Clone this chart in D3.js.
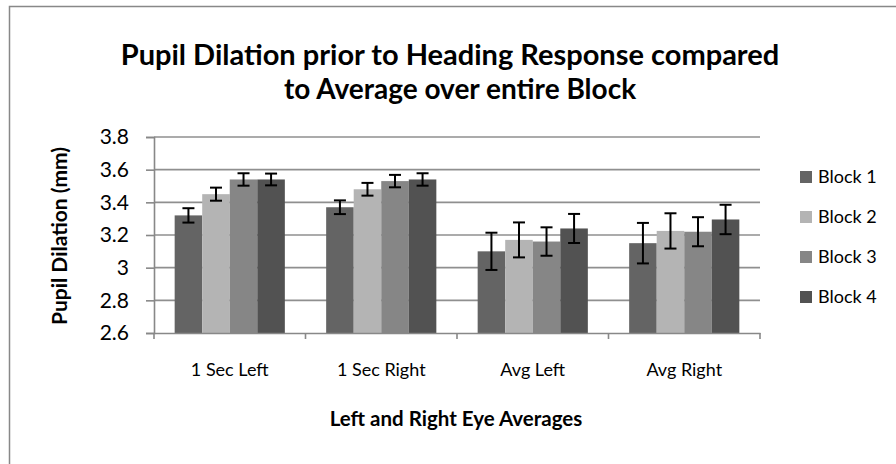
<!DOCTYPE html>
<html>
<head>
<meta charset="utf-8">
<script src="https://cdn.jsdelivr.net/npm/d3@7"></script>
<style>
  body { margin: 0; background: #fff; }
  svg text { font-family: Lato, "Liberation Sans", sans-serif; fill: #000; }
</style>
</head>
<body>
<svg id="chart" width="896" height="464"></svg>
<script>
"use strict";

var categories = ['1 Sec Left', '1 Sec Right', 'Avg Left', 'Avg Right'];
var blocks = ['Block 1', 'Block 2', 'Block 3', 'Block 4'];
var colors = ['#646464', '#b4b4b4', '#868686', '#525252'];

// means per block, one entry per category
var block1 = [3.32, 3.37, 3.10, 3.15];
var block2 = [3.45, 3.48, 3.17, 3.225];
var block3 = [3.54, 3.53, 3.16, 3.22];
var block4 = [3.54, 3.54, 3.24, 3.295];
// error bar half widths
var err1 = [0.044, 0.042, 0.114, 0.124];
var err2 = [0.040, 0.039, 0.107, 0.108];
var err3 = [0.038, 0.038, 0.087, 0.089];
var err4 = [0.036, 0.038, 0.089, 0.090];

var yTicks = [2.6, 2.8, 3, 3.2, 3.4, 3.6, 3.8];

var series = [block1, block2, block3, block4];
var errors = [err1, err2, err3, err4];

var svg = d3.select('#chart');

// chart frame
svg.append('rect')
  .attr('x', 9.5).attr('y', 6.5)
  .attr('width', 900).attr('height', 470)
  .attr('fill', 'none').attr('stroke', '#888').attr('stroke-width', 1.5);

var plot = { left: 154, right: 760, top: 137, bottom: 333 };

var x0 = d3.scaleBand()
  .domain(categories)
  .range([plot.left, plot.right])
  .paddingInner(0).paddingOuter(0);

var x1 = d3.scaleBand()
  .domain(blocks)
  .range([0, x0.bandwidth()])
  .paddingInner(0)
  .paddingOuter(0.75);

var y = d3.scaleLinear().domain([2.6, 3.8]).range([plot.bottom, plot.top]);

// gridlines
svg.append('g').selectAll('line')
  .data(yTicks.slice(1))
  .enter().append('line')
  .attr('x1', plot.left).attr('x2', plot.right)
  .attr('y1', function (d) { return y(d); })
  .attr('y2', function (d) { return y(d); })
  .attr('stroke', '#8f8f8f').attr('stroke-width', 1.6);

// y axis
var yAxis = svg.append('g')
  .attr('transform', 'translate(' + plot.left + ',0)')
  .call(d3.axisLeft(y).tickValues(yTicks).tickSize(8).tickPadding(17)
    .tickFormat(function (d) { return String(d); }));
yAxis.select('.domain').attr('stroke', '#888').attr('stroke-width', 1.6);
yAxis.selectAll('.tick line').attr('stroke', '#888').attr('stroke-width', 1.6);
yAxis.selectAll('.tick text').attr('font-size', 21)
  .style('font-family', 'Lato, sans-serif');

// bars
var groups = svg.append('g').selectAll('g.cat')
  .data(categories)
  .enter().append('g')
  .attr('class', 'cat')
  .attr('transform', function (c) { return 'translate(' + x0(c) + ',0)'; });

groups.selectAll('rect')
  .data(function (c, i) {
    return blocks.map(function (b, j) {
      return { block: b, idx: j, value: series[j][i], err: errors[j][i] };
    });
  })
  .enter().append('rect')
  .attr('x', function (d) { return x1(d.block); })
  .attr('width', x1.bandwidth())
  .attr('y', function (d) { return y(d.value); })
  .attr('height', function (d) { return y(2.6) - y(d.value); })
  .attr('fill', function (d) { return colors[d.idx]; });

// error bars
var eb = groups.selectAll('g.err')
  .data(function (c, i) {
    return blocks.map(function (b, j) {
      return { block: b, value: series[j][i], err: errors[j][i] };
    });
  })
  .enter().append('g')
  .attr('class', 'err')
  .attr('stroke', '#000').attr('stroke-width', 2);

eb.append('line')
  .attr('x1', function (d) { return x1(d.block) + x1.bandwidth() / 2; })
  .attr('x2', function (d) { return x1(d.block) + x1.bandwidth() / 2; })
  .attr('y1', function (d) { return y(d.value + d.err); })
  .attr('y2', function (d) { return y(d.value - d.err); });
[1, -1].forEach(function (s) {
  eb.append('line')
    .attr('x1', function (d) { return x1(d.block) + x1.bandwidth() / 2 - 6; })
    .attr('x2', function (d) { return x1(d.block) + x1.bandwidth() / 2 + 6; })
    .attr('y1', function (d) { return y(d.value + s * d.err); })
    .attr('y2', function (d) { return y(d.value + s * d.err); });
});

// x axis
var xAxis = svg.append('g')
  .attr('transform', 'translate(0,' + plot.bottom + ')')
  .call(d3.axisBottom(x0).tickSize(0).tickPadding(30));
xAxis.select('.domain').attr('stroke', '#888').attr('stroke-width', 1.6);
xAxis.selectAll('.tick text').attr('font-size', 18)
  .style('font-family', 'Lato, sans-serif');

svg.append('g').selectAll('line')
  .data(categories.concat(['end']))
  .enter().append('line')
  .attr('x1', function (d) { return d === 'end' ? plot.right : x0(d); })
  .attr('x2', function (d) { return d === 'end' ? plot.right : x0(d); })
  .attr('y1', plot.bottom).attr('y2', plot.bottom + 6)
  .attr('stroke', '#888').attr('stroke-width', 1.6);

// titles
svg.append('text')
  .attr('x', 450).attr('y', 65)
  .attr('text-anchor', 'middle')
  .attr('font-size', 29).attr('font-weight', 'bold')
  .text('Pupil Dilation prior to Heading Response compared');
svg.append('text')
  .attr('x', 460).attr('y', 99)
  .attr('text-anchor', 'middle')
  .attr('font-size', 28).attr('font-weight', 'bold')
  .text('to Average over entire Block');

svg.append('text')
  .attr('x', 456).attr('y', 426)
  .attr('text-anchor', 'middle')
  .attr('font-size', 20.5).attr('font-weight', 'bold')
  .text('Left and Right Eye Averages');

svg.append('text')
  .attr('transform', 'translate(67,236) rotate(-90)')
  .attr('text-anchor', 'middle')
  .attr('font-size', 21).attr('font-weight', 'bold')
  .text('Pupil Dilation (mm)');

// legend
var legend = svg.append('g').selectAll('g')
  .data(blocks)
  .enter().append('g')
  .attr('transform', function (d, i) { return 'translate(800,' + (171 + i * 40) + ')'; });
legend.append('rect')
  .attr('width', 12).attr('height', 12)
  .attr('fill', function (d, i) { return colors[i]; });
legend.append('text')
  .attr('x', 18).attr('y', 12)
  .attr('font-size', 18)
  .text(function (d) { return d; });
</script>
</body>
</html>
